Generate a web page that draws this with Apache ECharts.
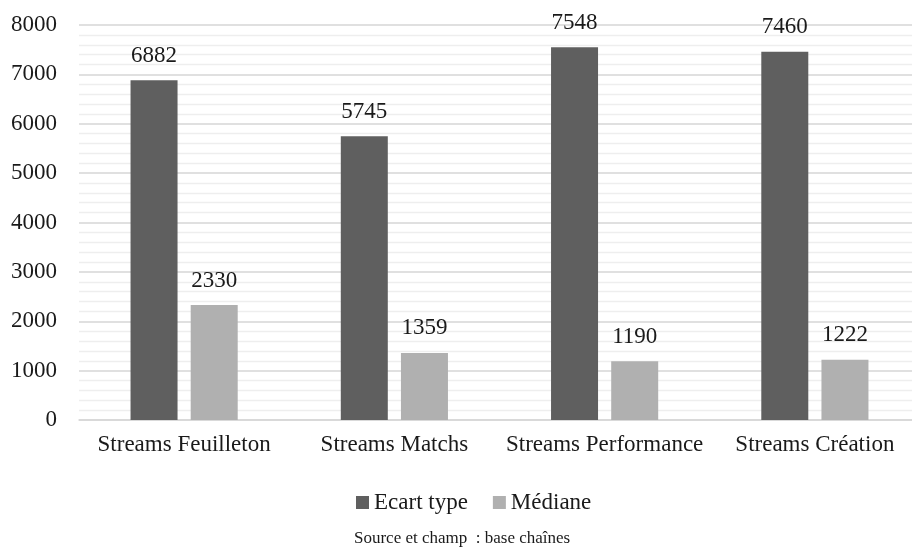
<!DOCTYPE html>
<html>
<head>
<meta charset="utf-8">
<script src="https://cdn.jsdelivr.net/npm/echarts@6/dist/echarts.min.js"></script>
<style>html,body{margin:0;padding:0;background:#fff;overflow:hidden;width:912px;height:547px;}#c{width:930px;height:547px;}</style>
</head>
<body>
<div id="c"></div>
<script>
const categories = ['Streams Feuilleton', 'Streams Matchs', 'Streams Performance', 'Streams Création'];
const ecartType = [6882, 5745, 7548, 7460];
const mediane = [2330, 1359, 1190, 1222];
const seriesNames = ['Ecart type', 'Médiane'];
const sourceText = 'Source et champ  : base chaînes';

const FONT = '"Liberation Serif", "DejaVu Serif", serif';
const chart = echarts.init(document.getElementById('c'), null, {renderer: 'canvas'});
const labelStyle = {show: true, position: 'top', distance: 13, fontFamily: FONT, fontSize: 23, color: '#1a1a1a'};
chart.setOption({
  animation: false,
  backgroundColor: '#ffffff',
  grid: {left: 79, top: 25, width: 841, bottom: 127, containLabel: false},
  legend: {
    data: seriesNames,
    left: 351, top: 486,
    itemWidth: 13, itemHeight: 13, itemGap: 25,
    icon: 'rect',
    textStyle: {fontFamily: FONT, fontSize: 23, color: '#1a1a1a'}
  },
  title: {
    text: sourceText,
    left: 349, top: 525,
    textStyle: {fontFamily: FONT, fontSize: 17, fontWeight: 'normal', color: '#1a1a1a'}
  },
  xAxis: {
    type: 'category',
    data: categories,
    axisLine: {show: true, lineStyle: {color: '#d6d6d6', width: 1.5}},
    axisTick: {show: false},
    axisLabel: {interval: 0, margin: 13, fontFamily: FONT, fontSize: 23, color: '#1a1a1a'}
  },
  yAxis: {
    type: 'value',
    min: 0, max: 8000, interval: 1000,
    axisLine: {show: false},
    axisTick: {show: false},
    axisLabel: {margin: 22, fontFamily: FONT, fontSize: 23, color: '#1a1a1a', formatter: v => String(v)},
    splitLine: {show: true, lineStyle: {color: '#d6d6d6', width: 1.5}},
    minorTick: {show: false, splitNumber: 5},
    minorSplitLine: {show: true, lineStyle: {color: '#eeeeee', width: 1.3}}
  },
  series: [
    {name: seriesNames[0], type: 'bar', data: ecartType, barWidth: 47, barGap: '28%',
     itemStyle: {color: '#5f5f5f'}, label: labelStyle},
    {name: seriesNames[1], type: 'bar', data: mediane, barWidth: 47, barGap: '28%',
     itemStyle: {color: '#b0b0b0'}, label: labelStyle}
  ]
});
</script>
</body>
</html>
